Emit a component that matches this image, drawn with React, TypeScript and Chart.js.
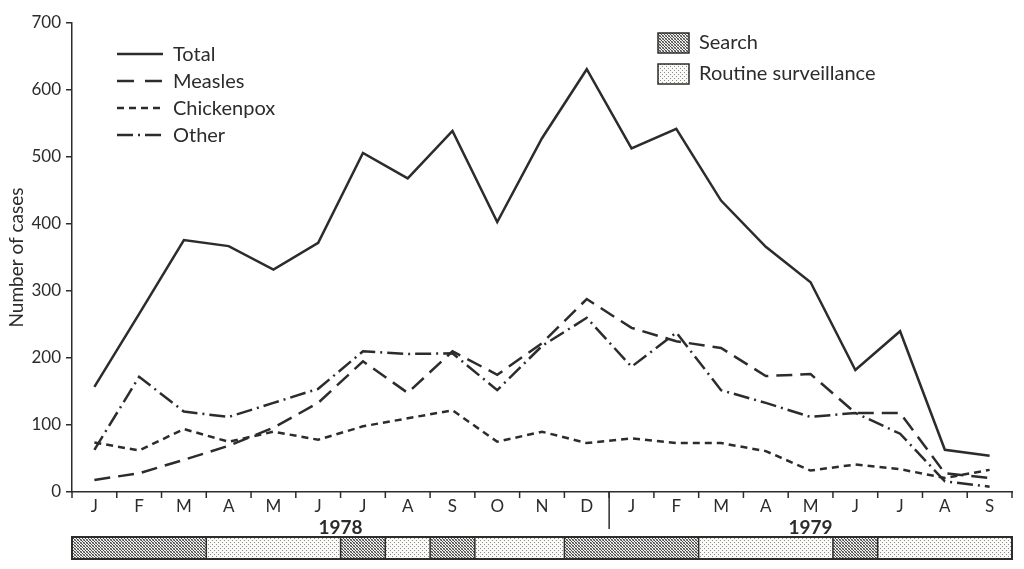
import React, { useEffect, useRef } from 'react';
import { Chart, registerables } from 'chart.js';

Chart.register(...registerables);

const months = ['J', 'F', 'M', 'A', 'M', 'J', 'J', 'A', 'S', 'O', 'N', 'D', 'J', 'F', 'M', 'A', 'M', 'J', 'J', 'A', 'S'];
const total = [157, 266, 376, 367, 332, 372, 506, 468, 539, 403, 528, 631, 513, 542, 435, 366, 313, 182, 240, 63, 54];
const measles = [18, 28, 48, 69, 96, 133, 195, 148, 210, 175, 222, 288, 245, 225, 215, 173, 176, 118, 118, 28, 21];
const chickenpox = [74, 62, 94, 75, 90, 78, 98, 110, 122, 75, 90, 73, 80, 73, 73, 61, 32, 41, 34, 21, 33];
const other = [63, 172, 120, 112, 133, 154, 210, 206, 207, 152, 218, 260, 187, 238, 152, 133, 112, 118, 87, 16, 8];

const seriesNames = ['Total', 'Measles', 'Chickenpox', 'Other'];
const yMin = 0;
const yMax = 700;
const yStep = 100;
const yTitle = 'Number of cases';

const years = ['1978', '1979'];
const yearMonthCounts = [12, 9];

const periodTypes = ['search', 'routine', 'search', 'routine', 'search', 'routine', 'search', 'routine', 'search', 'routine'];
const periodMonthCounts = [3, 3, 1, 1, 1, 2, 3, 3, 1, 3];
const periodLegend = ['Search', 'Routine surveillance'];

const FONT = 'Lato, "Open Sans", "DejaVu Sans", sans-serif';
const INK = '#2c2c2c';

const dashes: number[][] = [[], [16, 8], [7, 5], [16, 5, 2, 5]];

function makePattern(ctx: CanvasRenderingContext2D, kind: string): CanvasPattern | string {
  const c = document.createElement('canvas');
  const g = c.getContext('2d');
  if (!g) return '#ccc';
  if (kind === 'search') {
    c.width = 3; c.height = 3;
    g.fillStyle = '#f2f2ee';
    g.fillRect(0, 0, 3, 3);
    g.fillStyle = '#4a4a4a';
    g.fillRect(0, 0, 1, 1);
    g.fillRect(1, 1, 1, 1);
    g.fillRect(2, 2, 1, 1);
    g.fillStyle = '#999';
    g.fillRect(2, 0, 1, 1);
    g.fillRect(0, 2, 1, 1);
  } else {
    c.width = 4; c.height = 4;
    g.fillStyle = '#fafaf6';
    g.fillRect(0, 0, 4, 4);
    g.fillStyle = '#8a8a8a';
    g.fillRect(0, 0, 1, 1);
    g.fillRect(2, 2, 1, 1);
  }
  return ctx.createPattern(c, 'repeat') || '#ccc';
}

const overlay = {
  id: 'overlay',
  afterDraw(chart: any) {
    const ctx: CanvasRenderingContext2D = chart.ctx;
    const xs = chart.scales.x;
    const area = chart.chartArea;
    const n = months.length;
    const cw = (xs.right - xs.left) / n;
    const bx = (i: number) => xs.left + i * cw;
    ctx.save();

    // x tick marks between months
    ctx.strokeStyle = INK;
    ctx.lineWidth = 1.5;
    for (let i = 0; i <= n; i++) {
      ctx.beginPath();
      ctx.moveTo(bx(i), area.bottom);
      ctx.lineTo(bx(i), area.bottom + 6);
      ctx.stroke();
    }

    // left legend
    ctx.font = `20px ${FONT}`;
    ctx.textBaseline = 'middle';
    ctx.textAlign = 'left';
    const ly = [54, 81, 108, 135];
    seriesNames.forEach((name, i) => {
      ctx.beginPath();
      ctx.strokeStyle = INK;
      ctx.lineWidth = 2.5;
      ctx.setLineDash(i === 1 ? [17, 11] : dashes[i]);
      ctx.moveTo(117, ly[i]);
      ctx.lineTo(163, ly[i]);
      ctx.stroke();
      ctx.setLineDash([]);
      ctx.fillStyle = INK;
      ctx.fillText(name, 173, ly[i] + 1);
    });

    // right legend
    const boxY = [33, 64];
    periodLegend.forEach((name, i) => {
      ctx.fillStyle = makePattern(ctx, i === 0 ? 'search' : 'routine') as any;
      ctx.fillRect(658, boxY[i], 31, 20);
      ctx.strokeStyle = INK;
      ctx.lineWidth = 1.5;
      ctx.strokeRect(658, boxY[i], 31, 20);
      ctx.fillStyle = INK;
      ctx.fillText(name, 699, boxY[i] + 10);
    });

    // year separator and labels
    let acc = 0;
    ctx.font = `bold 19px ${FONT}`;
    ctx.textAlign = 'center';
    years.forEach((y, i) => {
      const start = acc;
      acc += yearMonthCounts[i];
      ctx.fillStyle = INK;
      ctx.fillText(y, (bx(start) + bx(acc)) / 2, 528);
      if (i < years.length - 1) {
        ctx.beginPath();
        ctx.strokeStyle = INK;
        ctx.lineWidth = 1.5;
        ctx.moveTo(bx(acc), area.bottom);
        ctx.lineTo(bx(acc), 529);
        ctx.stroke();
      }
    });

    // surveillance bar
    const top = 537;
    const h = 22;
    acc = 0;
    periodTypes.forEach((t, i) => {
      const s = acc;
      acc += periodMonthCounts[i];
      ctx.fillStyle = makePattern(ctx, t) as any;
      ctx.fillRect(bx(s), top, bx(acc) - bx(s), h);
      ctx.beginPath();
      ctx.strokeStyle = INK;
      ctx.lineWidth = 1.5;
      ctx.moveTo(bx(s), top);
      ctx.lineTo(bx(s), top + h);
      ctx.stroke();
    });
    ctx.strokeStyle = INK;
    ctx.lineWidth = 2;
    ctx.strokeRect(bx(0), top, bx(n) - bx(0), h);
    ctx.restore();
  },
};

export default function App() {
  const ref = useRef<HTMLCanvasElement | null>(null);
  useEffect(() => {
    if (!ref.current) return;
    const series = [total, measles, chickenpox, other];
    const chart = new Chart(ref.current, {
      type: 'line',
      data: {
        labels: months,
        datasets: series.map((d, i) => ({
          label: seriesNames[i],
          data: d,
          borderColor: INK,
          borderWidth: 2.5,
          borderDash: dashes[i],
          pointRadius: 0,
          tension: 0,
          fill: false,
        })),
      },
      options: {
        responsive: false,
        animation: false,
        layout: { padding: { left: 0, right: 12, top: 23, bottom: 0 } },
        plugins: { legend: { display: false }, tooltip: { enabled: false } },
        scales: {
          x: {
            type: 'category',
            offset: true,
            grid: { offset: true, drawOnChartArea: false, drawTicks: false },
            border: { color: INK, width: 1.5 },
            ticks: { color: INK, font: { family: FONT, size: 17 }, padding: 4, maxRotation: 0, autoSkip: false },
            afterFit: (s: any) => { s.height = 77; },
          },
          y: {
            min: yMin,
            max: yMax,
            ticks: { stepSize: yStep, color: INK, font: { family: FONT, size: 17 }, padding: 5 },
            grid: { drawOnChartArea: false, drawTicks: true, tickLength: 6, color: INK, lineWidth: 1.5 },
            border: { color: INK, width: 1.5 },
            title: { display: true, text: yTitle, color: INK, font: { family: FONT, size: 19 }, padding: { top: 5, bottom: 0 } },
            afterFit: (s: any) => { s.width = 72; },
          },
        },
      },
      plugins: [overlay],
    } as any);
    return () => chart.destroy();
  }, []);
  return (
    <div style={{ position: 'fixed', left: 0, top: 0, width: 1024, height: 569, background: '#fff' }}>
      <canvas ref={ref} width={1024} height={569} style={{ display: 'block' }} />
    </div>
  );
}
